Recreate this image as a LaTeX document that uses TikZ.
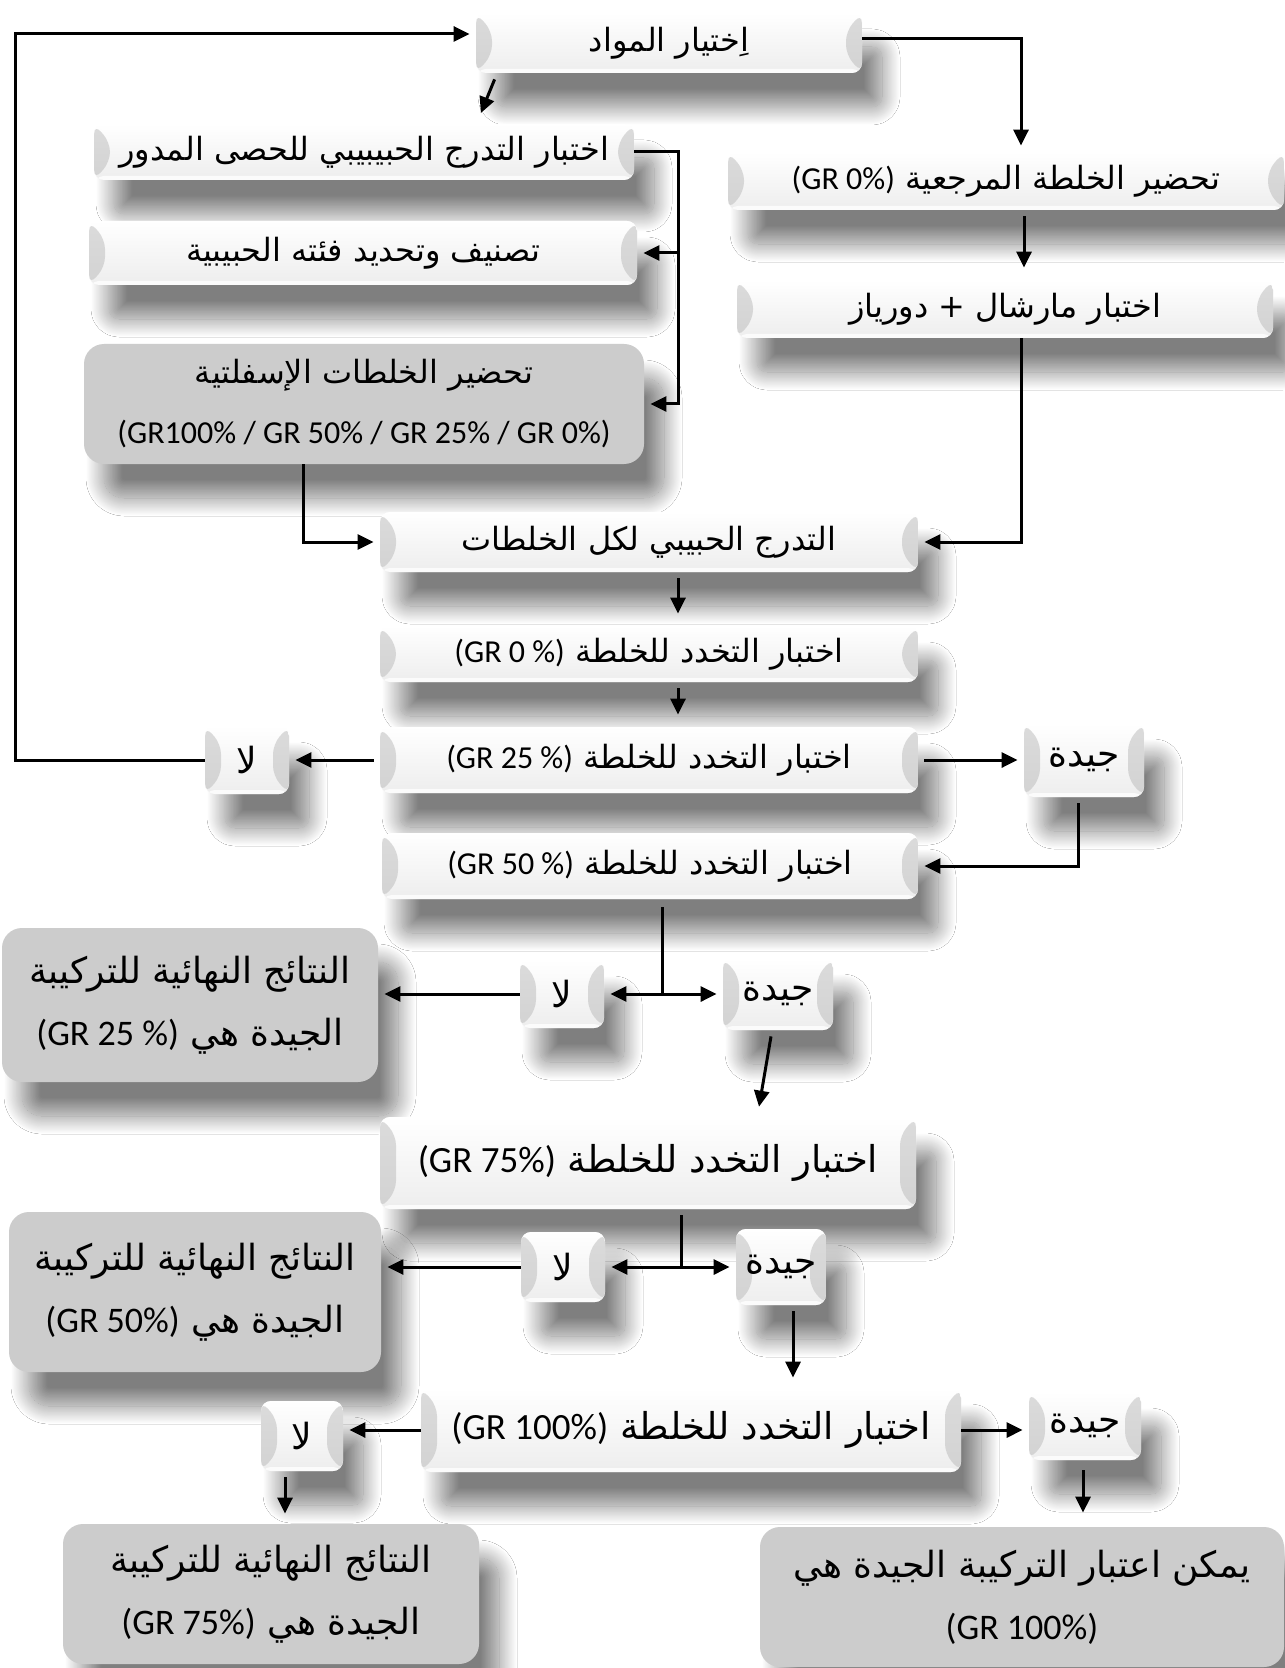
\documentclass[tikz,border=0pt]{standalone}
\usepackage{fontspec}
\setmainfont{Carlito}
\newfontfamily\arabicfont[Script=Arabic]{DejaVu Sans}
\newfontfamily\latinfont{Carlito}
\TeXXeTstate=1
\usepackage{tikz}
\usetikzlibrary{arrows.meta}
\usetikzlibrary{calc,shadows.blur}

% right-to-left piece of text in its own box
\newcommand\artext[1]{\hbox{\beginR #1\endR}}
\newcommand\grtext[1]{\hbox{\latinfont #1}}

% bevelled ends of the grey keys
\newcommand\boxbevel{%
  \fill[gray!55,opacity=.5] (path picture bounding box.north west) -- ++(8pt,-9pt)
    -- ([shift={(8pt,9pt)}]path picture bounding box.south west) -- (path picture bounding box.south west) -- cycle;
  \fill[gray!55,opacity=.5] (path picture bounding box.north east) -- ++(-8pt,-9pt)
    -- ([shift={(-8pt,9pt)}]path picture bounding box.south east) -- (path picture bounding box.south east) -- cycle;
  \fill[white,opacity=.8] (path picture bounding box.north west) rectangle ([yshift=-3pt]path picture bounding box.north east);
  \fill[white,opacity=.8] (path picture bounding box.south west) rectangle ([yshift=2pt]path picture bounding box.south east);
}

\begin{document}
\begin{tikzpicture}[x=0.5pt,y=-0.5pt]
  \tikzset{stepbox/.style = {shape=rectangle,rounded corners=5pt,inner sep=0pt,top color=white,middle color=gray!40,bottom color=gray!14,
      blur shadow={shadow xshift=10pt,shadow yshift=-17pt,shadow blur radius=9pt,shadow blur steps=30,shadow opacity=50},
      path picture={\boxbevel},font=\arabicfont\fontsize{16pt}{20pt}\selectfont}}
  \tikzset{keybox/.style = {stepbox,font=\arabicfont\fontsize{18pt}{22pt}\selectfont}}
  \tikzset{resbox/.style = {shape=rectangle,rounded corners=10pt,inner sep=0pt,fill=gray!40,align=center,
      blur shadow={shadow xshift=10pt,shadow yshift=-17pt,shadow blur radius=9pt,shadow blur steps=30,shadow opacity=50},
      font=\arabicfont\fontsize{18pt}{31pt}\selectfont}}
  \tikzset{arr/.style = {-{Triangle[length=8pt,width=7.5pt]},line width=1.5pt,shorten >=3pt}}
  \tikzset{line/.style = {line width=1.5pt}}

  \useasboundingbox[fill=white] (0,0) rectangle (1284,1668);

  \node[stepbox,minimum width=193pt,minimum height=30pt] (A) at (669,43) {\artext{اِختيار المواد}};
  \node[stepbox,minimum width=270pt,minimum height=28pt] (B) at (364,152) {\artext{اختبار التدرج الحبيبيبي للحصى المدور}};
  \node[stepbox,minimum width=274pt,minimum height=32pt] (C) at (363,253) {\artext{تصنيف وتحديد فئته الحبيبية}};
  \node[resbox,minimum width=280pt,minimum height=60pt,font=\arabicfont\fontsize{16pt}{30pt}\selectfont] (D) at (364,404)
    {\artext{تحضير الخلطات الإسفلتية}\\ \grtext{(GR100\% / GR 50\% / GR 25\% / GR 0\%)}};
  \node[stepbox,minimum width=278pt,minimum height=29pt] (E) at (1006,181) {\grtext{(GR 0\%)}\ \artext{تحضير الخلطة المرجعية}};
  \node[stepbox,minimum width=268pt,minimum height=29pt] (F) at (1005,309) {\artext{اختبار مارشال + دورياز}};

  \node[stepbox,minimum width=269pt,minimum height=30pt] (G) at (649,542) {\artext{التدرج الحبيبي لكل الخلطات}};
  \node[stepbox,minimum width=269pt,minimum height=28pt] (H) at (649,654) {\grtext{(GR 0 \%)}\ \artext{اختبار التخدد للخلطة}};
  \node[stepbox,minimum width=269pt,minimum height=33pt] (I) at (649,760) {\grtext{(GR 25 \%)}\ \artext{اختبار التخدد للخلطة}};
  \node[keybox,minimum width=42pt,minimum height=34pt] (No1) at (247,760) {\artext{لا}};
  \node[keybox,minimum width=60pt,minimum height=37pt] (Good1) at (1084,760) {\artext{جيدة}};
  \node[stepbox,minimum width=268pt,minimum height=33pt] (J) at (650,866) {\grtext{(GR 50 \%)}\ \artext{اختبار التخدد للخلطة}};

  \node[resbox,minimum width=188pt,minimum height=77pt] (Res25) at (190,1005)
    {\artext{النتائج النهائية للتركيبة}\\ \grtext{(GR 25 \%)}\ \artext{الجيدة هي}};
  \node[keybox,minimum width=42pt,minimum height=34pt] (No2) at (562,994) {\artext{لا}};
  \node[keybox,minimum width=55pt,minimum height=36pt] (Good2) at (778,994) {\artext{جيدة}};

  \node[stepbox,minimum width=268pt,minimum height=46pt,font=\arabicfont\fontsize{18.5pt}{22pt}\selectfont] (K) at (648,1163)
    {\grtext{(GR 75\%)}\ \artext{اختبار التخدد للخلطة}};
  \node[resbox,minimum width=186pt,minimum height=80pt] (Res50) at (195,1292)
    {\artext{النتائج النهائية للتركيبة}\\ \grtext{(GR 50\%)}\ \artext{الجيدة هي}};
  \node[keybox,minimum width=42pt,minimum height=35pt] (No3) at (563,1267) {\artext{لا}};
  \node[keybox,minimum width=45pt,minimum height=38pt] (Good3) at (781,1267) {\artext{جيدة}};

  \node[stepbox,minimum width=270pt,minimum height=42pt,font=\arabicfont\fontsize{18.5pt}{22pt}\selectfont] (L) at (691,1430)
    {\grtext{(GR 100\%)}\ \artext{اختبار التخدد للخلطة}};
  \node[keybox,minimum width=41pt,minimum height=35pt] (No4) at (302,1436) {\artext{لا}};
  \node[keybox,minimum width=56pt,minimum height=34pt] (Good4) at (1085,1426) {\artext{جيدة}};
  \node[resbox,minimum width=208pt,minimum height=70pt] (Res75) at (271,1594)
    {\artext{النتائج النهائية للتركيبة}\\ \grtext{(GR 75\%)}\ \artext{الجيدة هي}};
  \node[resbox,minimum width=262pt,minimum height=70pt] (Res100) at (1022,1597)
    {\artext{يمكن اعتبار التركيبة الجيدة هي}\\ \grtext{(GR 100\%)}};

  % loop back to the start
  \coordinate (ltop) at (15,34);
  \draw[arr] (No1.west) -| (ltop) -- (ltop -| A.west);

  \draw[arr] ($(A.south west)+(19,6)$) -- ($(B.north west)+(385,-5)$);
  \draw[arr] ($(A.east)+(0,-4)$) -| ($(E.north)+(15,0)$);
  \coordinate (bj) at (678,152);
  \draw[arr] (B.east) -| (bj |- D.east) -- (D.east);
  \draw[arr] (bj |- C.east) -- (C.east);
  \draw[arr] ($(E.south)+(18,6)$) -- ($(F.north)+(19,-6)$);
  \draw[arr] ($(F.south)+(16,0)$) |- (G.east);
  \draw[arr] ($(D.south)+(-61,0)$) |- (G.west);

  \draw[arr] ($(G.south)+(29,6)$) -- ($(H.north)+(29,-6)$);
  \draw[arr] ($(H.south)+(29,6)$) -- ($(I.north)+(29,-6)$);
  \draw[arr] ($(I.west)+(-6,0)$) -- (No1.east);
  \draw[arr] ($(I.east)+(6,0)$) -- (Good1.west);
  \draw[arr] ($(Good1.south)+(-6,6)$) |- (J.east);

  \coordinate (js) at (662,994);
  \draw[line] ($(J.south)+(12,8)$) -- (js);
  \foreach \to in {No2.east,Good2.west}
    \draw[arr] (js) -- (\to);
  \draw[arr] (No2.west) -- (No2.west -| Res25.east);
  \draw[arr] ($(Good2.south)+(-7,6)$) -- ($(K.north)+(110,-4)$);

  \coordinate (ks) at (681,1267);
  \draw[line] ($(K.south)+(33,6)$) -- (ks);
  \foreach \to in {No3.east,Good3.west}
    \draw[arr] (ks) -- (\to);
  \draw[arr] (No3.west) -- (No3.west -| Res50.east);
  \draw[arr] ($(Good3.south)+(12,6)$) -- ($(L.north -| Good3.south)+(12,-4)$);

  \draw[arr] (L.west) -- (L.west -| No4.east);
  \draw[arr] (L.east) -- (L.east -| Good4.west);
  \draw[arr] ($(No4.south)+(-17,6)$) -- ($(Res75.north -| No4.south)+(-17,-4)$);
  \draw[arr] ($(Good4.south)+(-2,10)$) -- ($(Res100.north -| Good4.south)+(-2,-8)$);
\end{tikzpicture}
\end{document}
